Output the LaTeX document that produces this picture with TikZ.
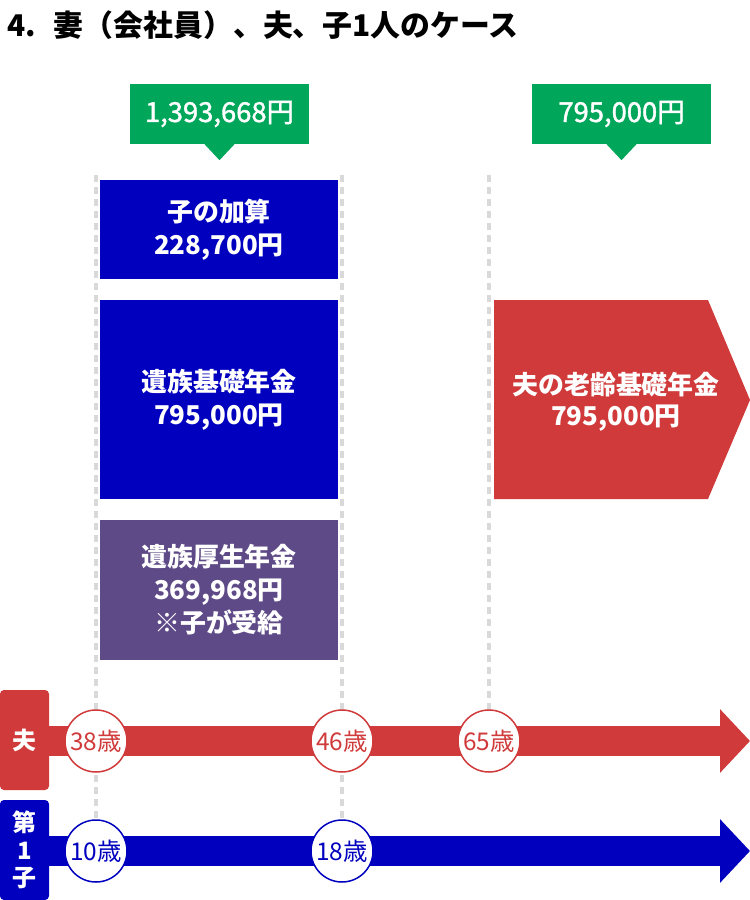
\documentclass[tikz,border=0pt]{standalone}
\usepackage{fontspec}
\setmainfont{Noto Sans CJK JP}
\newfontfamily\mediumfont[FakeBold=1.5]{Noto Sans CJK JP}
\usetikzlibrary{arrows.meta}
\definecolor{husband}{HTML}{D03A3A}
\definecolor{child}{HTML}{0000BE}
\definecolor{amount}{HTML}{00A65A}
\definecolor{kosei}{HTML}{5E4A86}
\definecolor{guide}{HTML}{D9D9D9}
\begin{document}
\begin{tikzpicture}[x=1bp,y=1bp,
  every node/.style={inner sep=0pt},
  benefit/.style={fill=#1,text=white,font=\bfseries\fontsize{26}{33}\selectfont,align=center,minimum width=238bp},
  total/.style={fill=amount,text=white,font=\mediumfont\fontsize{27.5}{30}\selectfont,minimum width=179bp,minimum height=60bp},
  who/.style={fill=#1,text=white,font=\bfseries\fontsize{24}{27.5}\selectfont,align=center,rounded corners=4bp,minimum width=49bp,minimum height=100bp},
  age/.style={circle,draw=#1,line width=1.5bp,fill=white,text=#1,minimum size=62bp,font=\fontsize{24.5}{24.5}\selectfont},
  guideline/.style={guide,line width=3.5bp,dash pattern=on 7bp off 5bp},
  timeline/.style={#1,line width=30bp,-{Triangle[length=30bp,width=62bp]}}]
\useasboundingbox (0,0) rectangle (750,-900);
\node [anchor=west,font=\bfseries\fontsize{30}{32}\selectfont] (title) at (7,-25) {4.\hspace{0.6em}妻（会社員）、夫、子1人のケース};
\coordinate (t38) at (96,-175);
\coordinate (t46) at (342,-175);
\coordinate (t65) at (489,-175);
\coordinate (p38) at (96,-741);
\coordinate (p46) at (342,-741);
\coordinate (p65) at (489,-741);
\coordinate (p10) at (96,-851);
\coordinate (p18) at (342,-851);
\draw [guideline] (t38) -- (p10);
\draw [guideline] (t46) -- (p18);
\draw [guideline] (t65) -- (p65);
\node [total] (sum1) at (219.5,-114) {1,393,668円};
\fill [amount] ([xshift=-15bp]sum1.south) -- ([xshift=15bp]sum1.south) -- ([yshift=-16bp]sum1.south) -- cycle;
\node [total] (sum2) at (621.5,-114) {795,000円};
\fill [amount] ([xshift=-15bp]sum2.south) -- ([xshift=15bp]sum2.south) -- ([yshift=-16bp]sum2.south) -- cycle;
\node [benefit=child,minimum height=99bp] (kasan) at (219,-229.5) {子の加算\\228,700円};
\node [benefit=child,minimum height=199bp] (kiso) at (219,-399.5) {遺族基礎年金\\795,000円};
\node [benefit=kosei,minimum height=140bp] (kosei) at (219,-590) {遺族厚生年金\\369,968円\\※子が受給};
\fill [husband] (494,-300) -- (708,-300) -- (750,-400) -- (708,-499) -- (494,-499) -- cycle;
\node [text=white,align=center,font=\bfseries\fontsize{26}{31}\selectfont] (rourei) at (616,-402) {夫の老齢基礎年金\\795,000円};
\node [who=husband] (fu) at (24.5,-740) {夫};
\node [who=child] (ko) at (24.5,-850) {第\\1\\子};
\coordinate (fuend) at (750,-741);
\coordinate (koend) at (750,-851);
\draw [timeline=husband] (fu.east |- p38) -- (fuend);
\draw [timeline=child] (ko.east |- p10) -- (koend);
\node [age=husband] (a38) at (p38) {38歳};
\node [age=husband] (a46) at (p46) {46歳};
\node [age=husband] (a65) at (p65) {65歳};
\node [age=child] (a10) at (p10) {10歳};
\node [age=child] (a18) at (p18) {18歳};
\end{tikzpicture}
\end{document}
